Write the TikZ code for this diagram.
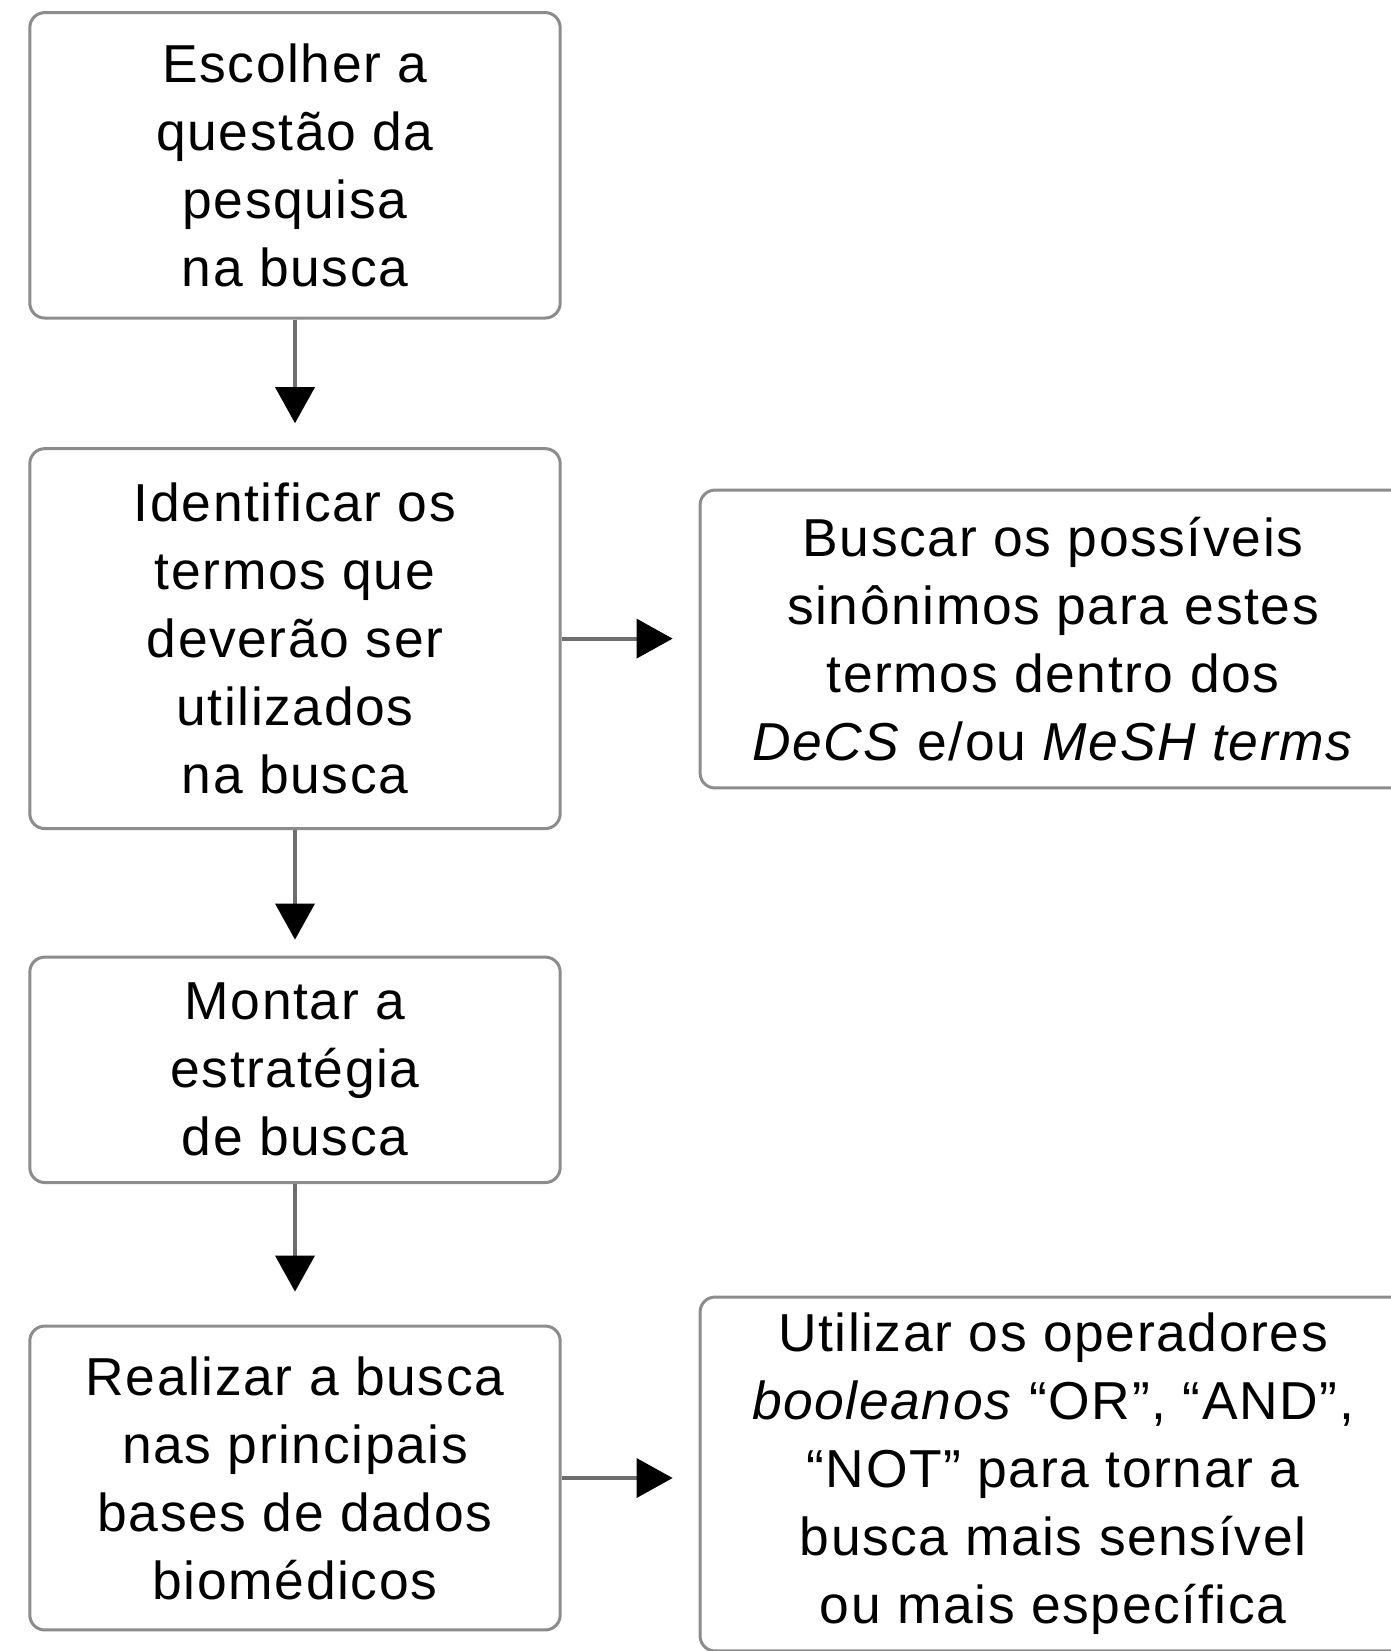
\documentclass[tikz,border=0pt]{standalone}
\usepackage{fontspec}
\setmainfont[LetterSpace=3]{Liberation Sans}
\usetikzlibrary{arrows.meta}
\definecolor{boxline}{HTML}{8C8C8C}
\definecolor{shaft}{HTML}{6E6E6E}
\tikzset{
  stepbox/.style={draw=boxline, line width=0.06cm, rounded corners=0.3cm, fill=white,
    align=center, inner sep=0pt, minimum width=10.61cm,
    font=\fontsize{30.4}{38.7}\selectfont},
  sidebox/.style={stepbox, minimum width=14.12cm},
  arr/.style={draw=shaft, line width=0.08cm,
    -{Triangle[length=0.72cm, width=0.8cm, color=black, line width=0pt]}}
}
\begin{document}
\begin{tikzpicture}[x=0.02cm, y=-0.02cm]
\useasboundingbox (0,0) rectangle (1391,1651);
\clip (0,0) rectangle (1391,1651);
\fill[white] (0,0) rectangle (1391,1651);
\node[stepbox, minimum height=6.11cm] (b1) at (295,165.3)
  {Escolher a\\questão da\\pesquisa\\na busca};
\node[stepbox, minimum height=7.6cm] (b2) at (295,638.6)
  {Identificar os\\termos que\\deverão ser\\utilizados\\na busca};
\node[stepbox, minimum height=4.51cm] (b3) at (295,1069.8)
  {Montar a\\estratégia\\de busca};
\node[stepbox, minimum height=6.08cm] (b4) at (295,1478)
  {Realizar a busca\\nas principais\\bases de dados\\biomédicos};
\node[sidebox, minimum height=5.96cm] (s1) at (1053,639)
  {Buscar os possíveis\\sinônimos para estes\\termos dentro dos\\\textit{DeCS} e/ou \textit{MeSH terms}};
\node[sidebox, minimum height=7.08cm] (s2) at (1053,1474)
  {Utilizar os operadores\\\textit{booleanos} “OR”, “AND”,\\“NOT” para tornar a\\busca mais sensível\\ou mais específica};
\draw[arr, shorten >=0.48cm] (b1) -- (b2);
\draw[arr, shorten >=0.32cm] (b2) -- (b3);
\draw[arr, shorten >=0.66cm] (b3) -- (b4);
\draw[arr, shorten >=0.52cm] (b2) -- (s1.west |- b2.east);
\draw[arr, shorten >=0.52cm] (b4) -- (s2.west |- b4.east);
\end{tikzpicture}
\end{document}
